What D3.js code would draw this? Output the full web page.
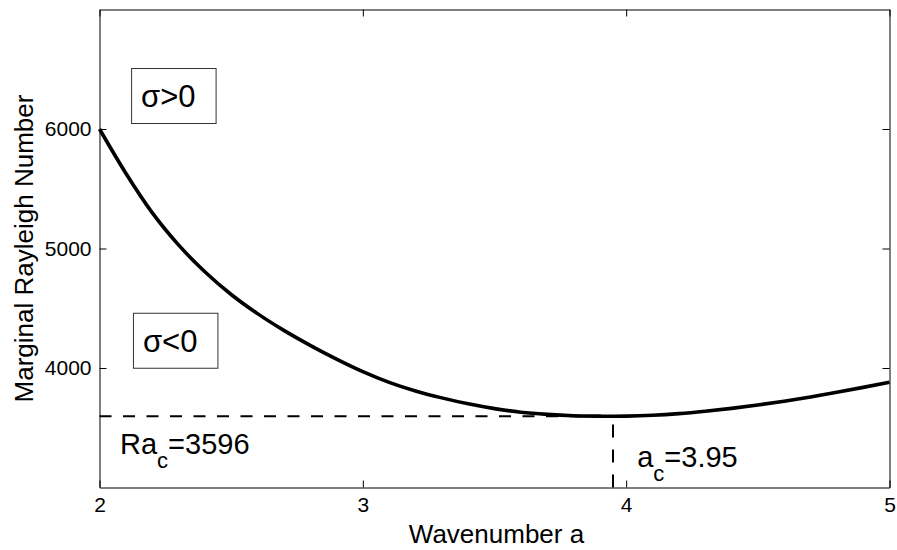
<!DOCTYPE html>
<html lang="en">
<head>
<meta charset="UTF-8">
<title>Marginal Rayleigh Number</title>
<script src="https://cdn.jsdelivr.net/npm/d3@7"></script>
<style>
  body { margin: 0; background: #fff; }
  svg, svg text { font-family: "Liberation Sans", Arial, Helvetica, sans-serif; }
  .tick line { stroke: #000; }
  .domain { stroke: #000; }
</style>
</head>
<body>
<svg id="chart" width="897" height="550"></svg>
<script>
// wavenumber a and marginal Rayleigh number
var wavenumbers = [2.0, 2.1, 2.2, 2.3, 2.4, 2.5, 2.6, 2.7, 2.8, 2.9, 3.0,
                   3.1, 3.2, 3.3, 3.4, 3.5, 3.6, 3.7, 3.8, 3.9, 3.95, 4.0,
                   4.1, 4.2, 4.3, 4.4, 4.5, 4.6, 4.7, 4.8, 4.9, 5.0];
var rayleigh = [6000, 5630, 5300, 5030, 4805, 4615, 4455, 4315, 4190, 4075, 3970,
                3880, 3808, 3750, 3700, 3660, 3630, 3612, 3601, 3597, 3596, 3597,
                3604, 3618, 3638, 3662, 3690, 3722, 3758, 3797, 3838, 3880];
var xTicks = [2, 3, 4, 5];
var yTicks = [4000, 5000, 6000];
var criticalA = 3.95, criticalRa = 3596;

var margin = { top: 9.5, right: 7.5, bottom: 62.5, left: 99.5 },
    width = 897 - margin.left - margin.right,
    height = 550 - margin.top - margin.bottom;

var svg = d3.select("#chart");
var g = svg.append("g")
    .attr("transform", "translate(" + margin.left + "," + margin.top + ")");

var x = d3.scaleLinear().domain([2, 5]).range([0, width]);
var y = d3.scaleLinear().domain([3000, 7000]).range([height, 0]);

function styleTicks(a) {
    a.attr("font-family", null).attr("font-size", null);
    a.selectAll("text").style("font-size", "21px").attr("fill", "#000");
}

// axes with inward ticks, box on all four sides
g.append("g")
    .attr("transform", "translate(0," + height + ")")
    .call(d3.axisBottom(x).tickValues(xTicks).tickFormat(d3.format("d"))
        .tickSizeInner(-7).tickSizeOuter(0).tickPadding(10))
    .call(styleTicks);
g.append("g")
    .call(d3.axisLeft(y).tickValues(yTicks).tickFormat(d3.format("d"))
        .tickSizeInner(-7).tickSizeOuter(0).tickPadding(8))
    .call(styleTicks);
g.append("g")
    .call(d3.axisTop(x).tickValues(xTicks).tickSizeInner(-7).tickSizeOuter(0).tickFormat(""));
g.append("g")
    .attr("transform", "translate(" + width + ",0)")
    .call(d3.axisRight(y).tickValues(yTicks).tickSizeInner(-7).tickSizeOuter(0).tickFormat(""));

// axis titles
g.append("text")
    .attr("x", width / 2 + 2)
    .attr("y", height + 55)
    .attr("text-anchor", "middle")
    .style("font-size", "26px")
    .text("Wavenumber a");
g.append("text")
    .attr("transform", "translate(" + (33 - margin.left) + "," + (height / 2) + ") rotate(-90)")
    .attr("text-anchor", "middle")
    .style("font-size", "26px")
    .text("Marginal Rayleigh Number");

// dashed guides to the minimum
g.append("line")
    .attr("x1", x(2)).attr("y1", y(criticalRa))
    .attr("x2", x(criticalA)).attr("y2", y(criticalRa))
    .attr("stroke", "#000").attr("stroke-width", 2)
    .attr("stroke-dasharray", "12,11.5");
g.append("line")
    .attr("x1", x(criticalA)).attr("y1", y(3000))
    .attr("x2", x(criticalA)).attr("y2", y(criticalRa))
    .attr("stroke", "#000").attr("stroke-width", 2)
    .attr("stroke-dasharray", "13,12");

// marginal curve
var pts = wavenumbers.map(function (a, i) { return [a, rayleigh[i]]; });
var line = d3.line()
    .x(function (d) { return x(d[0]); })
    .y(function (d) { return y(d[1]); })
    .curve(d3.curveMonotoneX);
g.append("path")
    .datum(pts)
    .attr("fill", "none")
    .attr("stroke", "#000")
    .attr("stroke-width", 3.6)
    .attr("d", line);

// region labels in boxes
function boxedLabel(a, ra, txt) {
    var lab = g.append("g");
    var t = lab.append("text")
        .attr("x", x(a)).attr("y", y(ra))
        .style("font-size", "31px")
        .text(txt);
    var b = t.node().getBBox();
    lab.insert("rect", "text")
        .attr("x", b.x - 9.5)
        .attr("y", b.y - 10.5)
        .attr("width", b.width + 30)
        .attr("height", b.height + 20)
        .attr("fill", "#fff")
        .attr("stroke", "#333")
        .attr("stroke-width", 1);
}
boxedLabel(2.158, 6184, "σ>0");
boxedLabel(2.165, 4136, "σ<0");

// critical values with subscript c
function subLabel(a, ra, main, rest) {
    var t = g.append("text")
        .attr("x", x(a)).attr("y", y(ra))
        .style("font-size", "29px");
    t.append("tspan").text(main);
    t.append("tspan").attr("dy", 14).style("font-size", "22px").text("c");
    t.append("tspan").attr("dy", -14).text(rest);
}
subLabel(2.078, 3280, "Ra", "=3596");
subLabel(4.042, 3169, "a", "=3.95");
</script>
</body>
</html>
